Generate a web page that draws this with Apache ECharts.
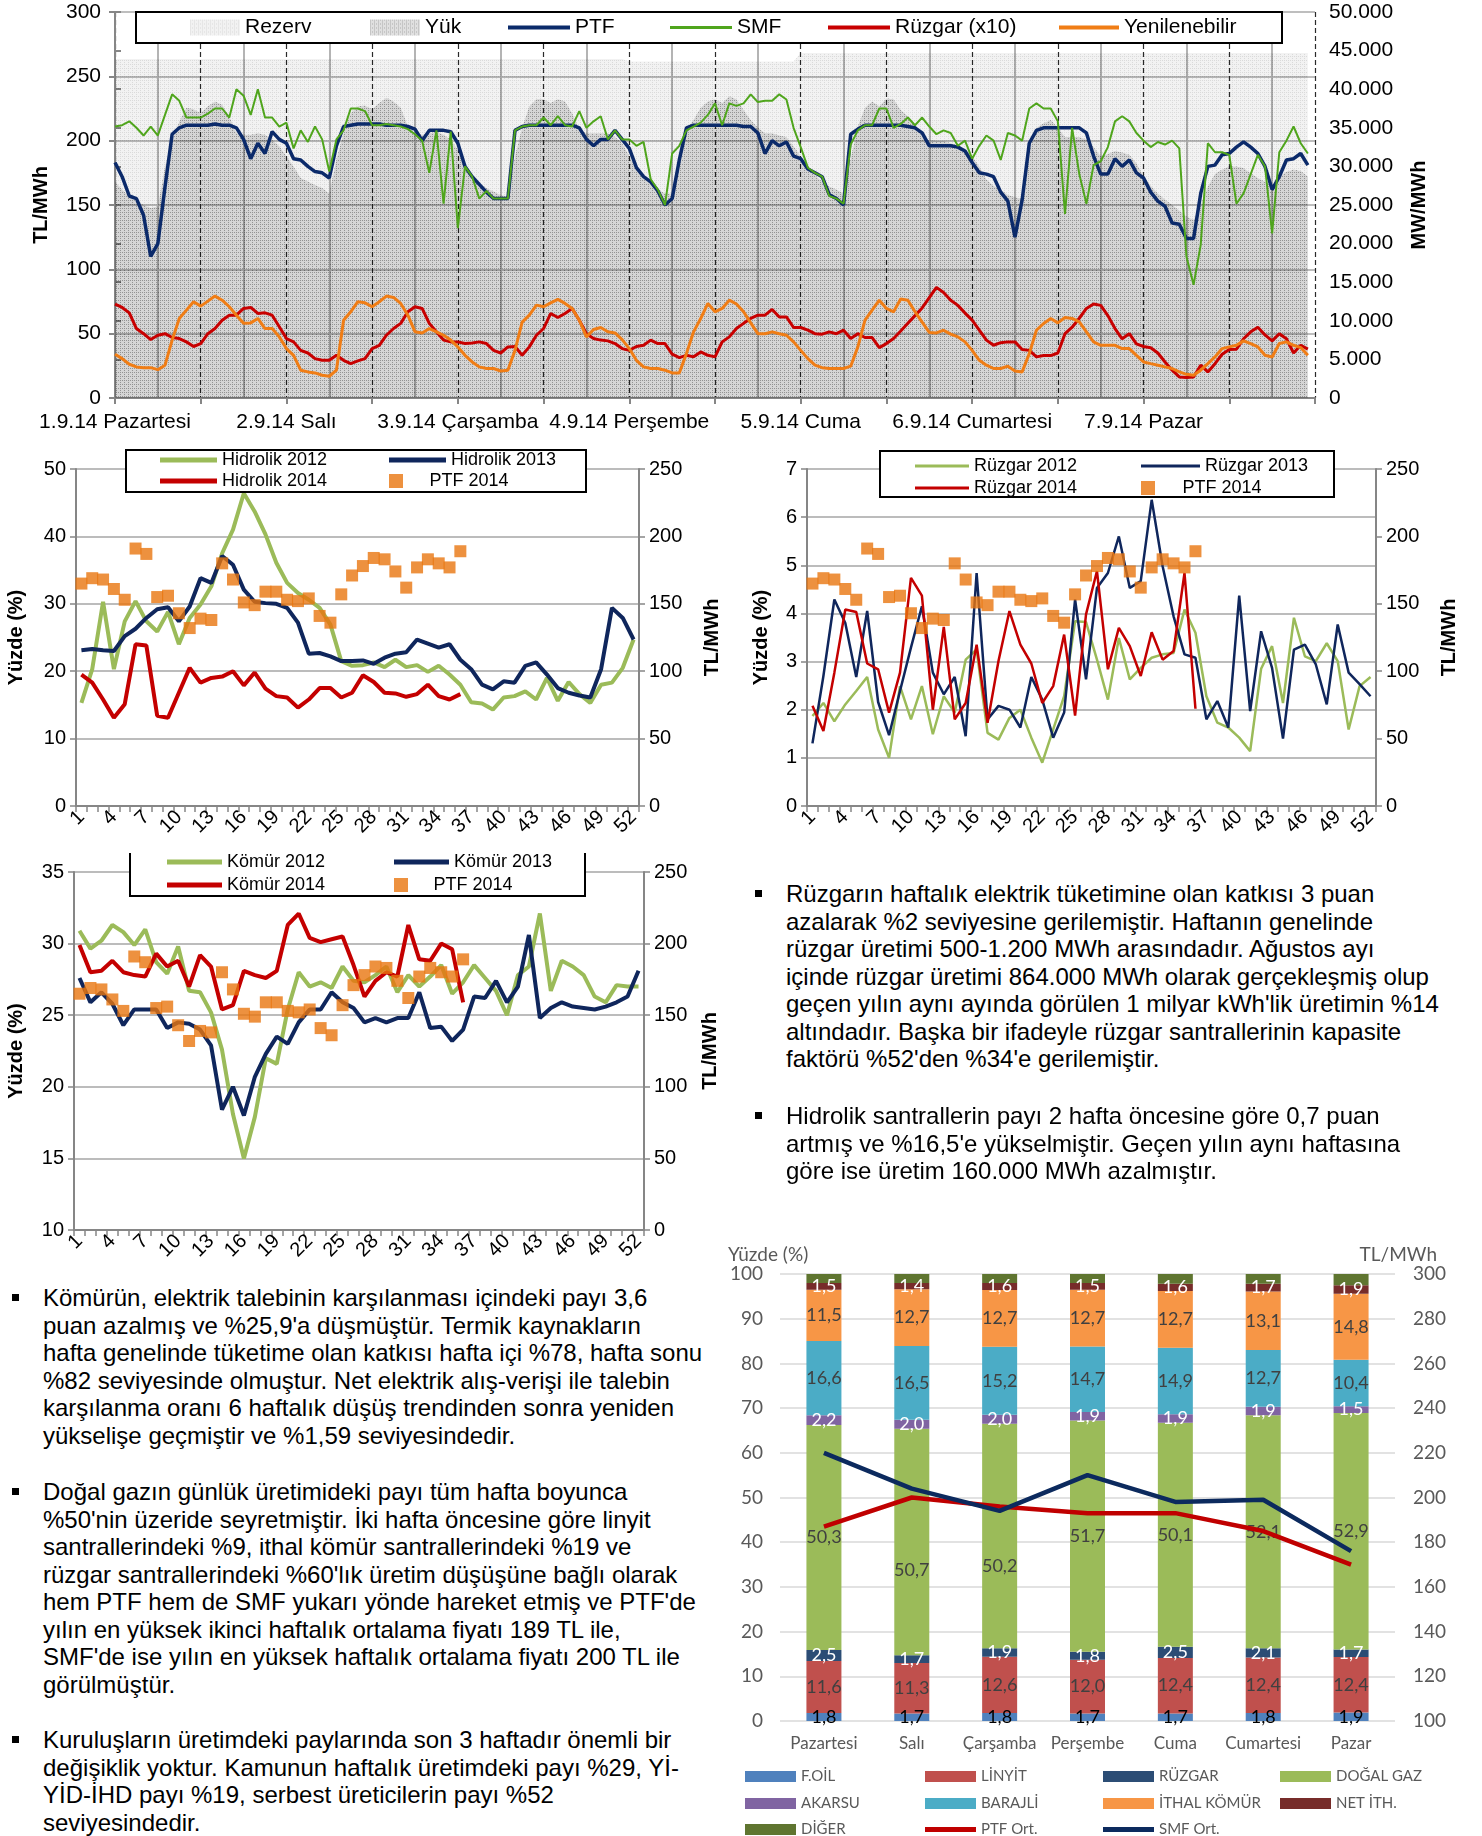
<!DOCTYPE html>
<html lang="tr">
<head>
<meta charset="utf-8">
<title>Elektrik piyasası haftalık görünüm</title>
<script src="https://cdn.jsdelivr.net/npm/echarts@6/dist/echarts.min.js"></script>
<style>
  html, body { margin: 0; padding: 0; background: #fff; }
  body { position: relative; width: 1482px; height: 1836px; overflow: hidden; }
  .grafik { position: absolute; }
  .metin { position: absolute; font-family: 'Liberation Sans', Arial, sans-serif; font-size: 24px; line-height: 27.5px; color: #000; }
  .metin p { position: absolute; left: 0; margin: 0; padding-left: 31px; white-space: nowrap; }
  .metin p::before { content: ''; position: absolute; left: 0; top: 10px; width: 7px; height: 7px; background: #000; }
</style>
</head>
<body>
<div id="saatlik" class="grafik" style="left:0;top:0;width:1482px;height:440px"></div>
<div id="hidrolik" class="grafik" style="left:0;top:440px;width:740px;height:420px"></div>
<div id="ruzgar" class="grafik" style="left:740px;top:440px;width:742px;height:420px"></div>
<div id="komur" class="grafik" style="left:0;top:840px;width:740px;height:430px"></div>
<div id="uretim" class="grafik" style="left:720px;top:1240px;width:762px;height:596px"></div>

<div class="metin" style="left:755px;top:880px">
  <p style="top:0">Rüzgarın haftalık elektrik tüketimine olan katkısı 3 puan<br>azalarak %2 seviyesine gerilemiştir. Haftanın genelinde<br>rüzgar üretimi 500-1.200 MWh arasındadır. Ağustos ayı<br>içinde rüzgar üretimi 864.000 MWh olarak gerçekleşmiş olup<br>geçen yılın aynı ayında görülen 1 milyar kWh'lik üretimin %14<br>altındadır. Başka bir ifadeyle rüzgar santrallerinin kapasite<br>faktörü %52'den %34'e gerilemiştir.</p>
  <p style="top:222px">Hidrolik santrallerin payı 2 hafta öncesine göre 0,7 puan<br>artmış ve %16,5'e yükselmiştir. Geçen yılın aynı haftasına<br>göre ise üretim 160.000 MWh azalmıştır.</p>
</div>
<div class="metin" style="left:12px;top:1284px">
  <p style="top:0">Kömürün, elektrik talebinin karşılanması içindeki payı 3,6<br>puan azalmış ve %25,9'a düşmüştür. Termik kaynakların<br>hafta genelinde tüketime olan katkısı hafta içi %78, hafta sonu<br>%82 seviyesinde olmuştur. Net elektrik alış-verişi ile talebin<br>karşılanma oranı 6 haftalık düşüş trendinden sonra yeniden<br>yükselişe geçmiştir ve %1,59 seviyesindedir.</p>
  <p style="top:194px">Doğal gazın günlük üretimideki payı tüm hafta boyunca<br>%50'nin üzeride seyretmiştir. İki hafta öncesine göre linyit<br>santrallerindeki %9, ithal kömür santrallerindeki %19 ve<br>rüzgar santrallerindeki %60'lık üretim düşüşüne bağlı olarak<br>hem PTF hem de SMF yukarı yönde hareket etmiş ve PTF'de<br>yılın en yüksek ikinci haftalık ortalama fiyatı 189 TL ile,<br>SMF'de ise yılın en yüksek haftalık ortalama fiyatı 200 TL ile<br>görülmüştür.</p>
  <p style="top:442px">Kuruluşların üretimdeki paylarında son 3 haftadır önemli bir<br>değişiklik yoktur. Kamunun haftalık üretimdeki payı %29, Yİ-<br>YİD-İHD payı %19, serbest üreticilerin payı %52<br>seviyesindedir.</p>
</div>

<script>
var YAZI = "'Liberation Sans', Arial, sans-serif";

// ---- saatlik grafik (1-7 Eylül 2014) ----
var gunEtiketleri = ['1.9.14 Pazartesi', '2.9.14 Salı', '3.9.14 Çarşamba', '4.9.14 Perşembe', '5.9.14 Cuma', '6.9.14 Cumartesi', '7.9.14 Pazar'];

var ptf = [
  183, 172, 157, 155, 142, 110, 120, 164, 205, 210, 212, 212, 212, 212, 213, 212, 212, 210, 201, 186, 198, 190, 207, 201,
  198, 186, 185, 180, 176, 175, 171, 196, 211, 212, 213, 213, 213, 213, 212, 212, 212, 211, 209, 200, 208, 208, 208, 207,
  198, 180, 172, 166, 160, 155, 155, 155, 208, 211, 212, 212, 212, 212, 212, 212, 212, 210, 201, 196, 201, 201, 208, 201,
  194, 179, 172, 168, 161, 150, 155, 185, 210, 212, 212, 212, 212, 212, 212, 212, 211, 211, 206, 190, 200, 196, 199, 188,
  186, 178, 175, 172, 158, 155, 150, 205, 209, 212, 212, 212, 212, 212, 212, 211, 210, 206, 196, 196, 196, 196, 195, 192,
  183, 175, 174, 172, 160, 153, 125, 154, 198, 208, 210, 210, 210, 210, 210, 210, 206, 188, 174, 174, 186, 180, 185, 175,
  171, 160, 153, 149, 136, 135, 124, 124, 159, 180, 181, 189, 190, 195, 199, 195, 190, 180, 162, 172, 185, 186, 190, 181
];
var smf = [
  211, 212, 215, 210, 204, 211, 204, 220, 236, 231, 218, 218, 218, 221, 225, 225, 218, 240, 235, 220, 240, 218, 218, 211,
  214, 194, 208, 199, 211, 201, 176, 201, 208, 225, 225, 223, 212, 212, 213, 212, 211, 209, 205, 200, 175, 208, 151, 207,
  132, 180, 172, 155, 161, 155, 155, 155, 208, 211, 212, 212, 218, 212, 219, 212, 211, 223, 210, 215, 219, 201, 208, 201,
  201, 196, 199, 170, 162, 150, 190, 196, 208, 211, 214, 220, 229, 212, 229, 227, 229, 236, 230, 231, 231, 236, 232, 210,
  195, 179, 175, 172, 157, 155, 151, 197, 208, 212, 212, 225, 225, 210, 213, 218, 212, 218, 211, 205, 208, 206, 196, 200,
  186, 196, 204, 200, 185, 206, 204, 200, 225, 229, 225, 225, 215, 143, 210, 174, 151, 181, 184, 195, 215, 219, 215, 206,
  200, 195, 199, 197, 200, 194, 110, 88, 119, 198, 191, 191, 189, 151, 159, 174, 189, 180, 128, 191, 200, 211, 198, 190
];
var ruzgarX10 = [
  12170, 11730, 11030, 9000, 8330, 7570, 8130, 8330, 7830, 7700, 7270, 6670, 7050, 8330, 9000, 10080, 10730, 10730, 11600, 11730, 10950, 11030, 10730, 9220,
  7700, 7270, 6170, 5830, 5100, 4880, 4880, 5530, 4880, 4450, 4800, 5100, 6400, 6830, 8130, 9000, 9670, 11170, 11820, 11600, 9670, 8570, 7500, 7270,
  7270, 7050, 7130, 7270, 7050, 6170, 5830, 6620, 6670, 5530, 6620, 8130, 9000, 10950, 10430, 10950, 11600, 10080, 8330, 7700, 7500, 7400, 7050, 6400,
  6170, 6670, 6830, 7500, 7050, 7050, 5670, 5230, 5530, 5330, 5970, 5530, 5330, 7270, 7920, 9000, 9670, 10300, 10730, 10730, 11470, 10500, 10500, 9130,
  9130, 8780, 8330, 8270, 8570, 8330, 8780, 7700, 8330, 7830, 7830, 6530, 7050, 7700, 8670, 9670, 10670, 11670, 13000, 14330, 13670, 12670, 12000, 11000,
  10080, 8780, 7500, 6830, 7170, 7270, 7270, 6280, 6170, 5330, 5500, 5500, 5830, 8330, 9170, 10330, 11600, 12170, 12000, 10670, 9000, 7670, 8330, 7000,
  6670, 6500, 5830, 4670, 3600, 2730, 2670, 2730, 4250, 3380, 4450, 5670, 6280, 6330, 7670, 8570, 9170, 8170, 7400, 8330, 7670, 5830, 6830, 6330
];
var yenilenebilir = [
  5670, 5100, 4370, 4030, 3930, 3930, 3670, 4250, 7500, 10300, 11380, 12470, 11900, 12550, 13200, 12670, 11820, 10730, 9670, 9730, 10300, 9000, 9000, 7920,
  6400, 5530, 3600, 3380, 3250, 2950, 2820, 3600, 10080, 11170, 12470, 12330, 11820, 12470, 13200, 13030, 12250, 10730, 8570, 8430, 9000, 8570, 8130, 7500,
  6620, 5530, 4670, 4030, 3820, 3820, 3500, 3600, 6170, 9830, 10730, 12030, 11820, 12330, 12770, 12250, 11600, 10080, 7920, 8870, 9130, 8570, 8430, 7570,
  6400, 4880, 4030, 3820, 3820, 3600, 3250, 3250, 5750, 8570, 10300, 12250, 11170, 11600, 12670, 12170, 11170, 9730, 8330, 8330, 8570, 8330, 8130, 7270,
  6170, 5100, 4250, 3930, 3820, 3820, 3820, 4120, 6620, 10080, 11380, 12670, 11600, 11170, 12830, 12670, 11170, 9830, 8500, 8430, 8780, 8270, 7920, 7270,
  6170, 4880, 4250, 3820, 3820, 4120, 3500, 3380, 5750, 8780, 9650, 10300, 9730, 10430, 10300, 9870, 8570, 7270, 6830, 6830, 6830, 6400, 6400, 5530,
  4670, 4450, 4250, 4030, 3820, 3380, 3070, 2950, 3600, 4450, 5320, 6400, 6620, 6830, 7400, 7050, 6620, 5530, 5320, 7050, 7270, 6830, 6530, 5530
];
var yuk = [
  28000, 27000, 26100, 25450, 25000, 24600, 24800, 30000, 33300, 35800, 37600, 37400, 36900, 37800, 38400, 38000, 36500, 34300, 34100, 34100, 34300, 34100, 33450, 32600,
  31300, 30000, 28500, 28050, 27600, 27200, 26500, 30900, 34300, 36900, 37800, 37900, 37400, 38200, 38900, 38400, 37600, 35200, 34300, 34100, 34300, 34500, 34100, 33450,
  32150, 30400, 28900, 27800, 27200, 26750, 26300, 26100, 31300, 35000, 37800, 38700, 38700, 38200, 38700, 38400, 36900, 34750, 34300, 34300, 34300, 34300, 33800, 33000,
  31300, 29500, 28700, 27600, 27000, 26500, 26500, 30800, 34750, 36050, 37600, 38400, 38700, 38200, 39100, 38700, 37300, 36000, 35000, 34300, 34300, 34000, 33800, 32600,
  31300, 30000, 28900, 28000, 27400, 27000, 26500, 31000, 35200, 37600, 38400, 37800, 38800, 38700, 37300, 36500, 35400, 33800, 33400, 33300, 33300, 33000, 32700, 32200,
  31300, 30000, 28300, 27500, 27000, 26300, 26000, 25800, 32000, 35000, 35600, 36000, 35000, 33800, 33800, 33800, 33500, 32500, 31300, 31600, 32000, 31800, 31500, 30400,
  28700, 27500, 26500, 25700, 25000, 24300, 23500, 23100, 25000, 27400, 29000, 29600, 30000, 30000, 29800, 29100, 28500, 28000, 27400, 28700, 29300, 29600, 29400, 28700
];
var rezervSaat = [0, 71, 72, 95, 96, 167];
var rezervUst = [43900, 43900, 43600, 43600, 44700, 44700];

// ---- haftalık grafikler ----
var haftalar = [];
for (var w = 1; w <= 52; w++) { haftalar.push(String(w)); }

var ptf2014 = [165, 169, 168, 161, 153, 191, 187, 155, 156, 143, 132, 139, 138, 180, 168, 151, 149, 159, 159, 153, 152, 154, 141, 136, 157, 171, 178, 184, 183, 174, 162, 177, 183, 180, 177, 189];

var hidrolik2012 = [15.3, 20.3, 30.3, 20.3, 27.4, 30.4, 27.4, 25.9, 28.8, 24.0, 27.9, 29.9, 32.6, 37.5, 41.0, 46.4, 43.7, 40.3, 36.1, 33.1, 31.6, 30.6, 29.4, 26.9, 21.5, 20.8, 20.9, 21.3, 20.6, 21.7, 20.6, 20.9, 19.9, 20.8, 19.5, 18.0, 15.4, 15.2, 14.3, 16.1, 16.3, 17.0, 15.8, 19.0, 15.6, 18.4, 16.6, 15.3, 18.0, 18.3, 20.5, 24.7];
var hidrolik2013 = [23.1, 23.3, 23.1, 23.0, 25.2, 26.3, 27.9, 29.2, 29.5, 27.4, 29.6, 33.8, 33.1, 37.1, 35.8, 32.1, 30.3, 30.1, 30.0, 29.4, 27.2, 22.6, 22.7, 22.2, 21.5, 21.5, 21.6, 21.1, 22.0, 22.6, 22.8, 24.7, 24.1, 23.5, 24.0, 21.7, 20.3, 18.0, 17.3, 18.5, 18.3, 20.8, 21.3, 19.5, 17.5, 16.8, 16.4, 16.1, 20.3, 29.4, 27.9, 24.7];
var hidrolik2014 = [19.5, 18.3, 15.8, 13.1, 15.1, 24.0, 23.8, 13.4, 13.1, 16.8, 20.5, 18.3, 19.0, 19.2, 20.0, 17.9, 19.8, 17.4, 16.3, 16.1, 14.6, 15.8, 17.5, 17.5, 16.1, 16.8, 19.4, 18.4, 16.8, 16.7, 16.2, 16.6, 18.0, 16.3, 15.8, 16.6];

var ruzgar2012 = [1.87, 2.14, 1.76, 2.11, 2.39, 2.68, 1.59, 1.0, 2.49, 1.8, 2.49, 1.49, 2.28, 1.94, 3.04, 3.25, 1.52, 1.38, 1.83, 2.0, 1.42, 0.9, 1.59, 2.28, 3.84, 3.82, 3.04, 2.21, 3.49, 2.63, 2.87, 3.08, 3.15, 3.18, 4.08, 3.6, 2.28, 1.73, 1.63, 1.42, 1.14, 2.85, 3.32, 2.14, 3.91, 3.11, 3.01, 3.38, 3.01, 1.59, 2.49, 2.68];
var ruzgar2013 = [1.3, 2.7, 4.29, 3.8, 2.68, 4.05, 2.16, 1.47, 2.39, 3.29, 4.15, 2.77, 2.32, 2.68, 1.45, 4.84, 1.8, 2.08, 2.0, 1.63, 2.68, 2.21, 1.42, 1.94, 4.29, 2.63, 4.53, 4.84, 5.6, 4.53, 4.67, 6.36, 4.98, 3.94, 3.15, 3.08, 1.8, 2.18, 1.63, 4.37, 1.97, 3.63, 2.87, 1.4, 3.25, 3.35, 2.94, 2.11, 3.77, 2.77, 2.53, 2.28];
var ruzgar2014 = [2.08, 1.56, 2.77, 4.08, 4.03, 2.96, 2.84, 1.94, 2.77, 4.74, 4.37, 2.0, 3.72, 1.8, 2.14, 3.35, 1.73, 3.01, 4.05, 3.35, 2.96, 2.14, 2.49, 3.56, 1.88, 3.98, 4.88, 2.84, 3.7, 3.32, 2.7, 3.61, 3.04, 3.22, 4.84, 2.02];

var komur2012 = [30.9, 29.65, 30.2, 31.3, 30.8, 29.9, 31.0, 28.7, 27.9, 29.8, 26.7, 26.6, 25.2, 22.6, 18.1, 15.0, 17.9, 22.0, 21.6, 25.4, 28.0, 27.0, 27.3, 26.9, 28.4, 27.4, 27.3, 27.8, 28.4, 26.6, 27.8, 27.0, 27.7, 28.5, 26.5, 27.3, 28.5, 27.6, 26.7, 25.0, 27.8, 28.4, 32.1, 26.7, 28.8, 28.4, 27.8, 26.3, 25.9, 27.1, 27.0, 27.0];
var komur2013 = [27.6, 25.9, 26.6, 25.8, 24.3, 25.4, 25.4, 25.4, 24.1, 24.5, 24.4, 24.0, 22.9, 18.4, 20.0, 18.0, 20.7, 22.3, 23.5, 23.0, 24.5, 25.4, 25.4, 26.6, 25.9, 25.5, 24.5, 24.8, 24.5, 24.8, 24.8, 26.6, 24.1, 24.2, 23.2, 24.0, 26.3, 26.2, 27.4, 25.9, 27.0, 30.6, 24.8, 25.5, 25.9, 25.6, 25.5, 25.4, 25.6, 25.9, 26.3, 28.1];
var komur2014 = [29.9, 28.0, 28.1, 28.8, 28.0, 27.8, 27.7, 29.3, 28.4, 28.8, 27.0, 29.2, 28.4, 25.4, 25.7, 28.1, 27.8, 27.6, 28.1, 31.3, 32.1, 30.4, 30.1, 30.3, 30.5, 28.5, 26.3, 27.4, 28.0, 27.7, 31.3, 28.9, 28.8, 30.0, 29.6, 25.9];

// ---- günlük üretim payları ----
var gunler = ['Pazartesi', 'Salı', 'Çarşamba', 'Perşembe', 'Cuma', 'Cumartesi', 'Pazar'];
var fuelOil = [1.8, 1.7, 1.8, 1.7, 1.7, 1.8, 1.9];
var linyit = [11.6, 11.3, 12.6, 12.0, 12.4, 12.4, 12.4];
var ruzgarPay = [2.5, 1.7, 1.9, 1.8, 2.5, 2.1, 1.7];
var dogalGaz = [50.3, 50.7, 50.2, 51.7, 50.1, 52.1, 52.9];
var akarsu = [2.2, 2.0, 2.0, 1.9, 1.9, 1.9, 1.5];
var barajli = [16.6, 16.5, 15.2, 14.7, 14.9, 12.7, 10.4];
var ithalKomur = [11.5, 12.7, 12.7, 12.7, 12.7, 13.1, 14.8];
var netIthalat = [1.5, 1.4, 1.6, 1.5, 1.6, 1.7, 1.9];
var diger = [2.0, 2.0, 2.0, 2.0, 2.2, 2.2, 2.5];
var ptfOrt = [187, 200, 196, 193, 193, 185, 170];
var smfOrt = [220, 204, 194, 210, 198, 199, 176];

//#region yardımcılar

function desen(zemin, nokta) {
    var c = document.createElement('canvas');
    c.width = 4; c.height = 4;
    var g = c.getContext('2d');
    g.fillStyle = zemin; g.fillRect(0, 0, 4, 4);
    g.fillStyle = nokta;
    g.fillRect(0, 0, 1, 1); g.fillRect(2, 0, 1, 1); g.fillRect(0, 2, 1, 1);
    return { image: c, repeat: 'repeat' };
}
function saatli(arr) {
    return arr.map(function (v, i) { return [i, v]; });
}
function virgul(v) {
    return v.toFixed(1).replace('.', ',');
}
// lejant için kalın çizgi simgesi
function cizgiIkon(uzunluk, kalinlik) {
    return 'path://M0,0H' + uzunluk + 'V' + kalinlik + 'H0Z';
}
var GRI_EKSEN = '#868686';

//#endregion

//#region saatlik

var desenRezerv = desen('rgba(0,0,0,0.05)', 'rgba(0,0,0,0.10)');
var desenYuk = desen('rgba(0,0,0,0.12)', 'rgba(0,0,0,0.24)');

function ustLejant(ad, sol, genislik, renk, kalinlik) {
    var oge = { name: ad };
    if (renk) { oge.icon = 'rect'; oge.itemStyle = { color: renk }; }
    else { oge.icon = cizgiIkon(genislik, kalinlik); }
    return {
        data: [oge], left: sol, top: 17, padding: 0, itemWidth: genislik, itemHeight: 16,
        selectedMode: false, z: 10,
        textStyle: { fontSize: 21, color: '#000', fontFamily: YAZI }
    };
}

var saatlikGrafik = echarts.init(document.getElementById('saatlik'));
saatlikGrafik.setOption({
    animation: false,
    textStyle: { fontFamily: YAZI },
    grid: { left: 115, top: 12, width: 1200, height: 386, containLabel: false, outerBoundsMode: 'none' },
    legend: [
        ustLejant('Rezerv', 190, 50, desenRezerv),
        ustLejant('Yük', 370, 50, desenYuk),
        ustLejant('PTF', 508, 62, null, 4),
        ustLejant('SMF', 670, 62, null, 3),
        ustLejant('Rüzgar (x10)', 828, 62, null, 4),
        ustLejant('Yenilenebilir', 1059, 60, null, 4)
    ],
    graphic: [{
        type: 'rect', z: 5,
        shape: { x: 136, y: 12, width: 1146, height: 31 },
        style: { fill: '#fff', stroke: '#000', lineWidth: 2 }
    }],
    xAxis: [{
        type: 'value', min: 0, max: 168, interval: 12,
        axisLine: { lineStyle: { color: GRI_EKSEN, width: 2 } },
        axisTick: { show: true, length: 6, lineStyle: { color: GRI_EKSEN, width: 2 } },
        axisLabel: {
            fontSize: 21, color: '#000', margin: 14,
            formatter: function (v) { return (v % 24 === 0 && v < 168) ? gunEtiketleri[v / 24] : ''; }
        },
        splitLine: { show: true, lineStyle: { color: '#2a2a2a', width: 1.2, type: [5, 3] } }
    }, {
        type: 'value', min: 0, max: 168, interval: 6, position: 'top',
        axisLine: { show: false }, axisTick: { show: false }, axisLabel: { show: false },
        splitLine: { show: true, lineStyle: { color: ['rgba(0,0,0,0)', '#b4b4b4'], width: 2 } }
    }],
    yAxis: [{
        type: 'value', min: 0, max: 300, interval: 50,
        name: 'TL/MWh', nameLocation: 'middle', nameGap: 64,
        nameTextStyle: { fontWeight: 'bold', fontSize: 20, color: '#000' },
        axisLine: { show: true, lineStyle: { color: GRI_EKSEN, width: 2 } },
        axisTick: { show: true, length: 6, lineStyle: { color: GRI_EKSEN, width: 2 } },
        axisLabel: { fontSize: 21, color: '#000', margin: 14 },
        splitLine: { show: true, lineStyle: { color: '#a8a8a8', width: 1.5 } }
    }, {
        type: 'value', min: 0, max: 50000, interval: 5000, position: 'right',
        name: 'MW/MWh', nameLocation: 'middle', nameGap: 94, nameRotate: 90,
        nameTextStyle: { fontWeight: 'bold', fontSize: 20, color: '#000' },
        axisLine: { show: true, lineStyle: { color: GRI_EKSEN, width: 2 } },
        axisTick: { show: true, length: 6, lineStyle: { color: GRI_EKSEN, width: 2 } },
        axisLabel: {
            fontSize: 21, color: '#000', margin: 14,
            formatter: function (v) { return v === 0 ? '0' : (v / 1000).toFixed(3); }
        },
        splitLine: { show: false }
    }],
    series: [
        { name: 'Rezerv', type: 'line', yAxisIndex: 1, symbol: 'none', z: 1,
          data: rezervSaat.map(function (h, i) { return [h, rezervUst[i]]; }),
          lineStyle: { width: 0 }, itemStyle: { color: '#eeeeee' }, areaStyle: { color: desenRezerv, opacity: 1 } },
        { name: 'Yük', type: 'line', yAxisIndex: 1, symbol: 'none', z: 1, data: saatli(yuk),
          lineStyle: { width: 0 }, itemStyle: { color: '#cccccc' }, areaStyle: { color: desenYuk, opacity: 1 } },
        { name: 'Rüzgar (x10)', type: 'line', yAxisIndex: 1, symbol: 'none', z: 2, data: saatli(ruzgarX10),
          lineStyle: { color: '#c80000', width: 3 }, itemStyle: { color: '#c80000' } },
        { name: 'Yenilenebilir', type: 'line', yAxisIndex: 1, symbol: 'none', z: 2, data: saatli(yenilenebilir),
          lineStyle: { color: '#f07d15', width: 3 }, itemStyle: { color: '#f07d15' } },
        { name: 'PTF', type: 'line', symbol: 'none', z: 3, data: saatli(ptf),
          lineStyle: { color: '#0b2a6a', width: 3.5 }, itemStyle: { color: '#0b2a6a' } },
        { name: 'SMF', type: 'line', symbol: 'none', z: 3, data: saatli(smf),
          lineStyle: { color: '#4fa51c', width: 2 }, itemStyle: { color: '#4fa51c' } }
    ]
});

//#endregion

//#region haftalık

var YIL_RENKLERI = ['#9bbb59', '#0f265c', '#c40000'];
var KARE = 'path://M0,0H10V10H0Z';

function haftalikCiz(domId, a) {
    var grafik = echarts.init(document.getElementById(domId));
    var seriler = a.yillar.map(function (veri, i) {
        return {
            name: a.adlar[i], type: 'line', data: veri, symbol: 'none', z: 2 + i,
            lineStyle: { color: YIL_RENKLERI[i], width: a.kalinlik },
            itemStyle: { color: YIL_RENKLERI[i] }
        };
    });
    seriler.push({
        name: 'PTF 2014', type: 'scatter', yAxisIndex: 1, data: ptf2014, z: 6,
        symbol: 'rect', symbolSize: 12, itemStyle: { color: '#e8760f' }
    });
    var tumAdlar = a.adlar.concat(['PTF 2014']);
    var lejantlar = tumAdlar.map(function (ad, i) {
        var oge = { name: ad, icon: i === 3 ? KARE : cizgiIkon(a.lejant[i][2], a.lejantKalinlik) };
        return {
            data: [oge], left: a.lejant[i][0], top: a.lejant[i][1], padding: 0,
            itemWidth: a.lejant[i][2], itemHeight: 14, selectedMode: false, z: 10,
            textStyle: { fontSize: 18, color: '#000', fontFamily: YAZI }
        };
    });
    grafik.setOption({
        animation: false,
        textStyle: { fontFamily: YAZI },
        grid: { left: a.grid[0], top: a.grid[1], width: a.grid[2], height: a.grid[3], containLabel: false, outerBoundsMode: 'none' },
        legend: lejantlar,
        graphic: [a.kutu],
        xAxis: {
            type: 'category', data: haftalar, boundaryGap: true,
            axisLine: { lineStyle: { color: GRI_EKSEN, width: 2 } },
            axisTick: { show: true, interval: 0, length: 6, lineStyle: { color: GRI_EKSEN, width: 1.5 } },
            axisLabel: { interval: 2, rotate: 45, fontSize: 20, color: '#000', margin: 8 },
            splitLine: { show: false }
        },
        yAxis: [{
            type: 'value', min: a.sol[0], max: a.sol[1], interval: a.sol[2],
            name: 'Yüzde (%)', nameLocation: 'middle', nameGap: a.isimBosluk[0],
            nameTextStyle: { fontWeight: 'bold', fontSize: 20, color: '#000' },
            axisLine: { show: true, lineStyle: { color: GRI_EKSEN, width: 2 } },
            axisTick: { show: true, length: 6, lineStyle: { color: GRI_EKSEN, width: 1.5 } },
            axisLabel: { fontSize: 20, color: '#000', margin: 10 },
            splitLine: { show: true, lineStyle: { color: '#a6a6a6', width: 1.5 } }
        }, {
            type: 'value', min: 0, max: 250, interval: 50, position: 'right',
            name: 'TL/MWh', nameLocation: 'middle', nameGap: a.isimBosluk[1], nameRotate: 90,
            nameTextStyle: { fontWeight: 'bold', fontSize: 20, color: '#000' },
            axisLine: { show: true, lineStyle: { color: GRI_EKSEN, width: 2 } },
            axisTick: { show: true, length: 6, lineStyle: { color: GRI_EKSEN, width: 1.5 } },
            axisLabel: { fontSize: 20, color: '#000', margin: 10 },
            splitLine: { show: false }
        }],
        series: seriler
    });
    return grafik;
}

function kutuCiz(x, y, g, y2, ustYok) {
    if (ustYok) {
        return { type: 'polyline', z: 5, shape: { points: [[x, y], [x, y2], [x + g, y2], [x + g, y]] },
                 style: { fill: '#fff', stroke: '#000', lineWidth: 2 } };
    }
    return { type: 'rect', z: 5, shape: { x: x, y: y, width: g, height: y2 - y },
             style: { fill: '#fff', stroke: '#000', lineWidth: 2 } };
}

haftalikCiz('hidrolik', {
    yillar: [hidrolik2012, hidrolik2013, hidrolik2014],
    adlar: ['Hidrolik 2012', 'Hidrolik 2013', 'Hidrolik 2014'],
    kalinlik: 4, lejantKalinlik: 5,
    grid: [76, 29, 563, 337],
    sol: [0, 50, 10],
    isimBosluk: [50, 63],
    lejant: [[160, 11, 57], [389, 11, 57], [160, 32, 57], [389, 32, 57]],
    kutu: kutuCiz(126, 10, 460, 52)
});

haftalikCiz('ruzgar', {
    yillar: [ruzgar2012, ruzgar2013, ruzgar2014],
    adlar: ['Rüzgar 2012', 'Rüzgar 2013', 'Rüzgar 2014'],
    kalinlik: 2.5, lejantKalinlik: 3,
    grid: [67, 29, 569, 337],
    sol: [0, 7, 1],
    isimBosluk: [36, 63],
    lejant: [[175, 17, 54], [401, 17, 59], [175, 39, 54], [401, 39, 59]],
    kutu: kutuCiz(140, 11, 454, 57)
});

haftalikCiz('komur', {
    yillar: [komur2012, komur2013, komur2014],
    adlar: ['Kömür 2012', 'Kömür 2013', 'Kömür 2014'],
    kalinlik: 4, lejantKalinlik: 5,
    grid: [74, 32, 570, 358],
    sol: [10, 35, 5],
    isimBosluk: [48, 56],
    lejant: [[167, 13, 55], [394, 13, 55], [167, 36, 55], [394, 36, 55]],
    kutu: kutuCiz(130, 13, 455, 56, true)
});

//#endregion

//#region üretim payları

var kaynaklar = [
    { ad: 'F.OİL', veri: fuelOil, renk: '#4f81bd', yazi: '#000000' },
    { ad: 'LİNYİT', veri: linyit, renk: '#c0504d', yazi: '#404040' },
    { ad: 'RÜZGAR', veri: ruzgarPay, renk: '#2c4d75', yazi: '#ffffff' },
    { ad: 'DOĞAL GAZ', veri: dogalGaz, renk: '#9bbb59', yazi: '#404040' },
    { ad: 'AKARSU', veri: akarsu, renk: '#8064a2', yazi: '#ffffff' },
    { ad: 'BARAJLİ', veri: barajli, renk: '#4bacc6', yazi: '#404040' },
    { ad: 'İTHAL KÖMÜR', veri: ithalKomur, renk: '#f79646', yazi: '#404040' },
    { ad: 'NET İTH.', veri: netIthalat, renk: '#772c2a', yazi: '#ffffff' },
    { ad: 'DİĞER', veri: diger, renk: '#5f7530', yazi: null }
];
// Salı ve Çarşamba doğal gaz etiketleri aşağı kaydırılmış
var dogalGazEtiketKaydir = [0, 28, 30, 0, 0, 0, 0];

var uretimSerileri = kaynaklar.map(function (k) {
    var veri = k.veri.map(function (v, i) {
        if (k.ad === 'DOĞAL GAZ' && dogalGazEtiketKaydir[i]) {
            return { value: v, label: { offset: [0, dogalGazEtiketKaydir[i]] } };
        }
        return v;
    });
    return {
        name: k.ad, type: 'bar', stack: 'pay', data: veri, barWidth: 35,
        itemStyle: { color: k.renk },
        label: {
            show: k.yazi !== null, position: 'inside', color: k.yazi || '#000',
            fontSize: 18, fontFamily: 'Lato',
            formatter: function (p) { return virgul(p.value); }
        }
    };
});
uretimSerileri.push({
    name: 'PTF Ort.', type: 'line', yAxisIndex: 1, data: ptfOrt, symbol: 'none', z: 4,
    lineStyle: { color: '#c00000', width: 4.5 }, itemStyle: { color: '#c00000' }
});
uretimSerileri.push({
    name: 'SMF Ort.', type: 'line', yAxisIndex: 1, data: smfOrt, symbol: 'none', z: 4,
    lineStyle: { color: '#0c2a5e', width: 4.5 }, itemStyle: { color: '#0c2a5e' }
});

// alt lejant: 3 satır x 4 sütun
var lejantSirasi = [
    ['F.OİL', 'LİNYİT', 'RÜZGAR', 'DOĞAL GAZ'],
    ['AKARSU', 'BARAJLİ', 'İTHAL KÖMÜR', 'NET İTH.'],
    ['DİĞER', 'PTF Ort.', 'SMF Ort.']
];
var lejantSutun = [25, 205, 383, 560];
var lejantSatir = [529, 556, 582];
var altLejantlar = [];
lejantSirasi.forEach(function (satir, r) {
    satir.forEach(function (ad, c) {
        var cizgi = ad.indexOf('Ort.') > 0;
        altLejantlar.push({
            data: [{ name: ad, icon: cizgi ? cizgiIkon(51, 5) : 'rect' }],
            left: lejantSutun[c], top: lejantSatir[r], padding: 0,
            itemWidth: 51, itemHeight: 11, selectedMode: false,
            textStyle: { fontSize: 15, color: '#595959', fontFamily: 'Lato' }
        });
    });
});

var uretimGrafik = echarts.init(document.getElementById('uretim'));
uretimGrafik.setOption({
    animation: false,
    textStyle: { fontFamily: 'Lato' },
    title: [
        { text: 'Yüzde (%)', left: 8, top: 5, padding: 0, textStyle: { fontSize: 19, fontWeight: 'normal', color: '#595959' } },
        { text: 'TL/MWh', right: 45, top: 5, padding: 0, textStyle: { fontSize: 19, fontWeight: 'normal', color: '#595959' } }
    ],
    grid: { left: 60, top: 34, width: 615, height: 447, containLabel: false, outerBoundsMode: 'none' },
    legend: altLejantlar,
    xAxis: {
        type: 'category', data: gunler,
        axisLine: { show: false }, axisTick: { show: false },
        axisLabel: { interval: 0, fontSize: 17, color: '#595959', margin: 14 }
    },
    yAxis: [{
        type: 'value', min: 0, max: 100, interval: 10,
        axisLine: { show: false }, axisTick: { show: false },
        axisLabel: { fontSize: 19, color: '#595959', margin: 17 },
        splitLine: { show: true, lineStyle: { color: '#d9d9d9', width: 1.5 } }
    }, {
        type: 'value', min: 100, max: 300, interval: 20, position: 'right',
        axisLine: { show: false }, axisTick: { show: false },
        axisLabel: { fontSize: 19, color: '#595959', margin: 18 },
        splitLine: { show: false }
    }],
    series: uretimSerileri
});

//#endregion
</script>
</body>
</html>
